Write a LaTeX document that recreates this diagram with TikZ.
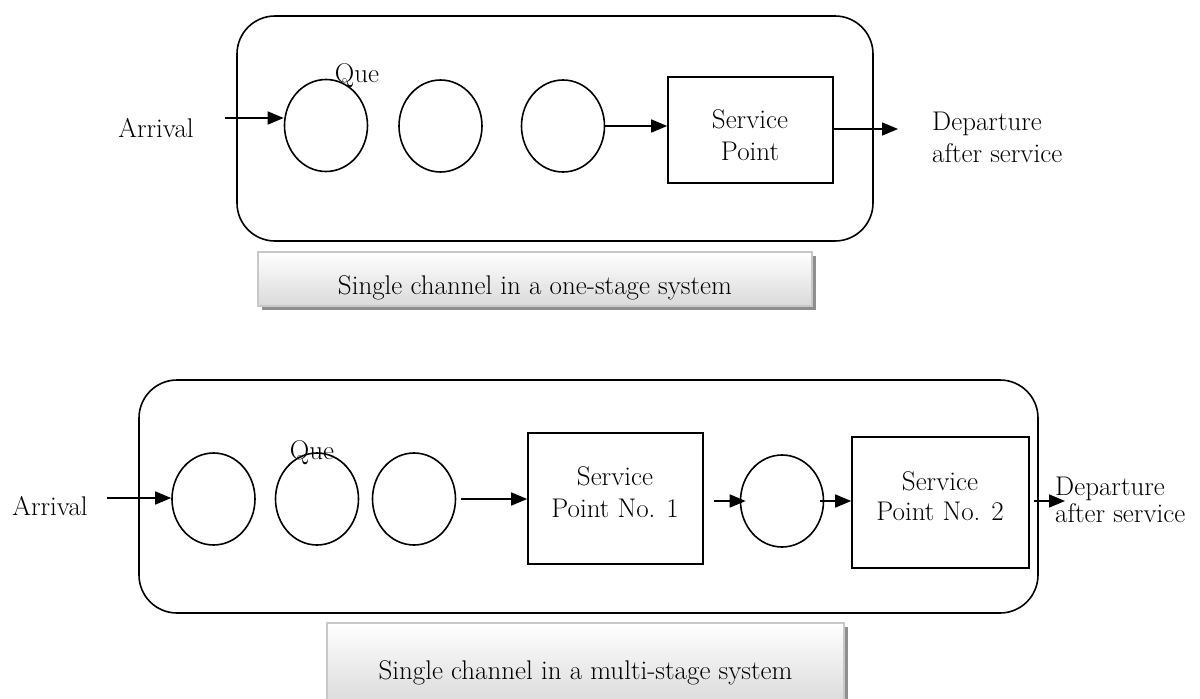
\documentclass[tikz,border=0pt]{standalone}
\usepackage{fontspec}
\usetikzlibrary{shapes.geometric,arrows.meta,shadows,calc}
\definecolor{capborder}{HTML}{C8C8C8}
\definecolor{capbottom}{HTML}{DADADA}
\tikzset{
  ln/.style={line width=1.6pt},
  outerbox/.style={ln, draw, rectangle, rounded corners=38pt, inner sep=0pt},
  que/.style={ln, draw, ellipse, minimum width=83pt, minimum height=92pt, inner sep=0pt},
  svcbox/.style={ln, draw, rectangle, inner sep=0pt},
  arr/.style={ln, -{Triangle[length=16pt,width=13pt]}},
  lbl/.style={font=\fontsize{27}{31}\selectfont, inner sep=0pt, anchor=base},
  lblw/.style={lbl, anchor=base west},
  caption/.style={rectangle, draw=capborder, line width=1.2pt, top color=white, bottom color=capbottom,
     drop shadow={shadow xshift=3.5pt, shadow yshift=-3.5pt, fill=black!55, opacity=0.8}, inner sep=0pt}
}
\begin{document}
\begin{tikzpicture}[x=1pt,y=-1pt]
\useasboundingbox (0,0) rectangle (1200,699);
% ---------- top diagram ----------
\node[outerbox, minimum width=636pt, minimum height=225pt] (topbox) at (555,128.5) {};
\node[que] (c1) at (326,125.5) {};
\node[que] (c2) at (440.5,126) {};
\node[que] (c3) at (563,126) {};
\node[svcbox, minimum width=165pt, minimum height=106pt] (sp) at (750.5,130) {};
\node[lbl] (spa) at (750,128) {Service};
\node[lbl] (spb) at (750,160) {Point};
\node[lbl] (queA) at (357,82) {Que};
\node[lbl] (arrA) at (156,137) {Arrival};
\node[lblw] (depA1) at (932,130) {Departure};
\node[lblw] (depA2) at (932,162) {after service};
\coordinate (inA) at (225,118);
\coordinate (outA) at (898,129);
\draw[arr] (inA) -- (inA -| c1.west);
\draw[arr] (c3.east) -- (c3.east -| sp.west);
\draw[arr] (sp.east |- outA) -- (outA);
\node[caption, minimum width=554pt, minimum height=54pt] (capA) at (535,279) {};
\node[lbl] (capAt) at (535,294) {Single channel in a one-stage system};
% ---------- bottom diagram ----------
\node[outerbox, minimum width=899pt, minimum height=233pt] (botbox) at (588.5,496.5) {};
\node[que] (d1) at (213.5,499) {};
\node[que] (d2) at (317,499) {};
\node[que] (d3) at (414,499) {};
\node[que] (d4) at (782,501) {};
\node[svcbox, minimum width=175pt, minimum height=131pt] (sp1) at (615.5,498.5) {};
\node[svcbox, minimum width=177pt, minimum height=131pt] (sp2) at (940.5,502.5) {};
\node[lbl] (sp1a) at (615,485) {Service};
\node[lbl] (sp1b) at (615,517) {Point No. 1};
\node[lbl] (sp2a) at (940,490) {Service};
\node[lbl] (sp2b) at (940,520) {Point No. 2};
\node[lbl] (queB) at (312,459) {Que};
\node[lbl] (arrB) at (50,515) {Arrival};
\node[lblw] (depB1) at (1055,495) {Departure};
\node[lblw] (depB2) at (1055,522) {after service};
\coordinate (inB) at (107,498);
\coordinate (outB) at (1065,501);
\draw[arr] (inB) -- (inB -| d1.west);
\draw[arr, shorten <=5pt] (d3.east) -- (d3.east -| sp1.west);
\draw[arr, shorten <=10pt, shorten >=-6pt] (sp1.east |- d4.west) -- (d4.west);
\draw[arr, shorten <=-4pt] (d4.east) -- (d4.east -| sp2.west);
\draw[arr, shorten <=4pt] (sp2.east |- outB) -- (outB);
\node[caption, minimum width=517pt, minimum height=82pt] (capB) at (585.5,664) {};
\node[lbl] (capBt) at (585.5,679) {Single channel in a multi-stage system};
\end{tikzpicture}
\end{document}
